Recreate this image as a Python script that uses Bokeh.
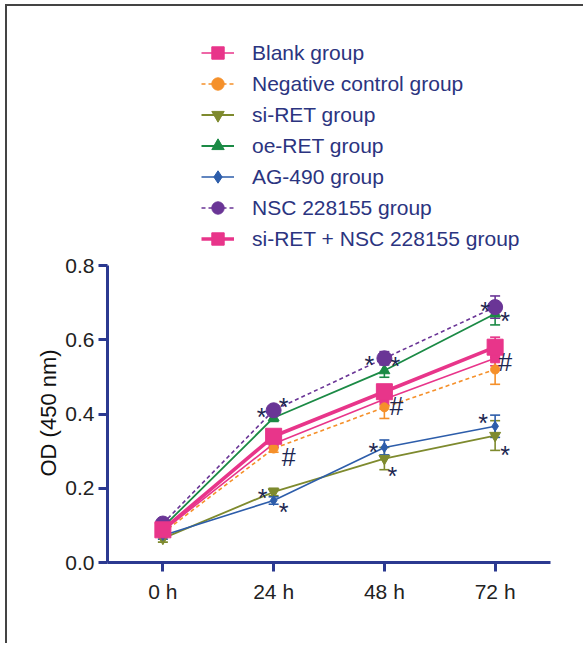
from bokeh.plotting import figure
from bokeh.models import (ColumnDataSource, FactorRange, Range1d, FixedTicker, Whisker,
                          TeeHead, Legend, LegendItem, Title, NumeralTickFormatter)
from bokeh.core.properties import value
from bokeh.embed import file_html
from bokeh.resources import INLINE

# ---------------- data ----------------
times = ["0 h", "24 h", "48 h", "72 h"]
y_ticks = [0.0, 0.2, 0.4, 0.6, 0.8]

blank = [0.085, 0.32, 0.44, 0.55]
blank_err = [0.01, 0.01, 0.015, 0.02]
neg_ctrl = [0.08, 0.307, 0.418, 0.52]
neg_ctrl_err = [0.01, 0.01, 0.03, 0.04]
si_ret = [0.065, 0.19, 0.28, 0.342]
si_ret_err = [0.01, 0.01, 0.03, 0.04]
oe_ret = [0.095, 0.39, 0.517, 0.67]
oe_ret_err = [0.01, 0.01, 0.018, 0.03]
ag490 = [0.073, 0.167, 0.31, 0.367]
ag490_err = [0.01, 0.01, 0.02, 0.03]
nsc = [0.105, 0.41, 0.55, 0.688]
nsc_err = [0.01, 0.01, 0.018, 0.03]
si_nsc = [0.088, 0.34, 0.46, 0.58]
si_nsc_err = [0.01, 0.01, 0.015, 0.027]

labels = ["Blank group", "Negative control group", "si-RET group", "oe-RET group",
          "AG-490 group", "NSC 228155 group", "si-RET + NSC 228155 group"]

# significance marks: (series index, time index, symbol, dx px, dy px)
marks = [
    (5, 1, "*", -12, 3), (5, 1, "*", 10, -7), (0, 1, "#", 15, 14),
    (2, 1, "*", -11, 2), (4, 1, "*", 10, 7),
    (5, 2, "*", -15, 3), (5, 2, "*", 11, 4), (0, 2, "#", 12, 8),
    (4, 2, "*", -11, 1), (2, 2, "*", 8, 13),
    (5, 3, "*", -10, 0), (3, 3, "*", 10, 3), (0, 3, "#", 10, 5),
    (4, 3, "*", -12, -7), (2, 3, "*", 10, 15),
]

values = [blank, neg_ctrl, si_ret, oe_ret, ag490, nsc, si_nsc]
errors = [blank_err, neg_ctrl_err, si_ret_err, oe_ret_err, ag490_err, nsc_err, si_nsc_err]

# styles: color, marker, size, line width, dash
styles = [
    ("#E8358A", "square", 9, 1.6, "solid"),
    ("#F5902A", "circle", 9, 1.6, "4 3"),
    ("#7E8A2E", "inverted_triangle", 11, 1.8, "solid"),
    ("#1B8A45", "triangle", 11, 1.8, "solid"),
    ("#2D5DAA", "diamond", 10, 1.6, "solid"),
    ("#6A3596", "circle", 15, 1.6, "4 3"),
    ("#E8358A", "square", 16, 3.6, "solid"),
]

AX = "#2B3990"
FONT = "Liberation Sans"

p = figure(width=578, height=639, x_range=FactorRange(*times), y_range=Range1d(0, 1.46),
           output_backend="svg", toolbar_location=None,
           min_border_left=100, min_border_right=35, min_border_top=14, min_border_bottom=83)
p.styles = {"border-top": "2px solid #444", "border-left": "2px solid #444",
            "margin-left": "5px", "margin-top": "4px"}
p.outline_line_color = None
p.xgrid.visible = False
p.ygrid.visible = False
p.background_fill_color = "white"

for ax in (p.xaxis, p.yaxis):
    ax.axis_line_color = AX
    ax.axis_line_width = 3
    ax.major_tick_line_color = AX
    ax.major_tick_line_width = 3
    ax.major_tick_in = 0
    ax.major_tick_out = 9
    ax.minor_tick_line_color = None
    ax.major_label_text_font = FONT
    ax.major_label_text_font_size = "21px"
    ax.major_label_text_color = "#222222"

p.yaxis.bounds = (0, 0.8)
p.yaxis.ticker = FixedTicker(ticks=y_ticks)
p.yaxis.formatter = NumeralTickFormatter(format="0.0")
p.yaxis.major_label_standoff = 4
p.xaxis.major_label_standoff = 8

items = []
for lab, vals, errs, (col, mk, sz, lw, dash) in zip(labels, values, errors, styles):
    src = ColumnDataSource(dict(x=times, y=vals,
                                upper=[v + e for v, e in zip(vals, errs)],
                                lower=[v - e for v, e in zip(vals, errs)]))
    ln = p.line("x", "y", source=src, line_color=col, line_width=lw, line_dash=dash)
    w = Whisker(source=src, base="x", upper="upper", lower="lower", dimension="height",
                line_color=col, line_width=1.6,
                upper_head=TeeHead(size=10, line_color=col, line_width=1.6),
                lower_head=TeeHead(size=10, line_color=col, line_width=1.6))
    p.add_layout(w)
    sc = p.scatter("x", "y", source=src, marker=mk, size=sz, fill_color=col, line_color=col)
    items.append(LegendItem(label=lab, renderers=[ln, sc]))

mk_src = ColumnDataSource(dict(
    x=[times[t] for (_, t, _, _, _) in marks],
    y=[values[s][t] for (s, t, _, _, _) in marks],
    text=[sym for (_, _, sym, _, _) in marks],
    dx=[dx for (_, _, _, dx, _) in marks],
    dy=[dy + (4 if sym == "*" else -1) for (_, _, sym, _, dy) in marks],
))
p.text("x", "y", text="text", source=mk_src, x_offset="dx", y_offset="dy",
       text_font=value(FONT), text_font_size="25px", text_color="#1D2650",
       text_align="center", text_baseline="alphabetic")

legend = Legend(items=items, location=(94, 308), orientation="vertical",
                glyph_width=33, glyph_height=31, label_height=31, label_standoff=18,
                spacing=0, padding=0, margin=0, border_line_color=None,
                background_fill_alpha=0, label_text_font=FONT,
                label_text_font_size="21px", label_text_color="#2B3480")
p.add_layout(legend)

p.add_layout(Title(text="OD (450 nm)", align="left", offset=86, standoff=4,
                   text_font=FONT, text_font_size="22px", text_font_style="normal",
                   text_color="#111111"), "left")

open("out.html", "w").write(file_html(p, INLINE))
